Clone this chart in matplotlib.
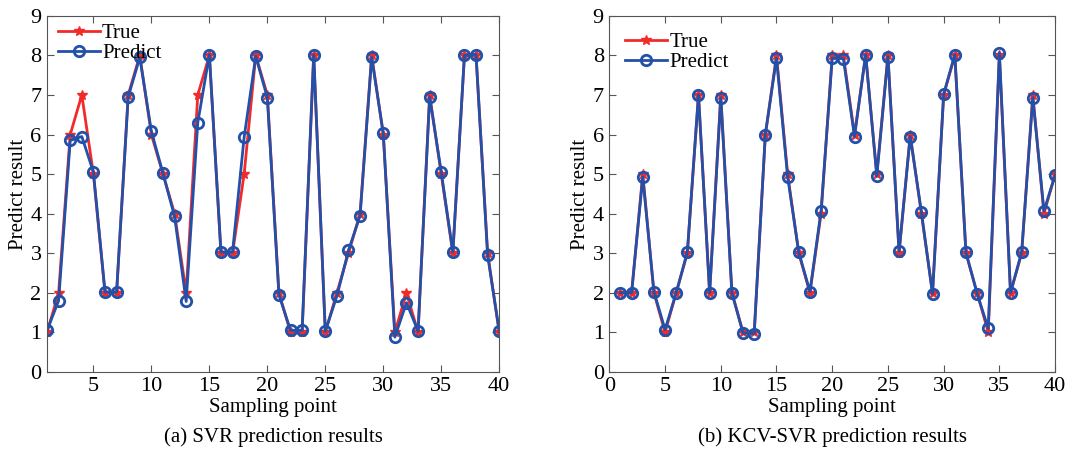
import matplotlib
matplotlib.use("Agg")
from matplotlib import pyplot as plt
import numpy as np

plt.rcParams["font.family"] = ["Liberation Serif", "DejaVu Serif"]
plt.rcParams["mathtext.fontset"] = "stix"

x = np.arange(1, 41)

# (a) SVR
svr_true = [1, 2, 6, 7, 5, 2, 2, 7, 8, 6,
            5, 4, 2, 7, 8, 3, 3, 5, 8, 7,
            2, 1, 1, 8, 1, 2, 3, 4, 8, 6,
            1, 2, 1, 7, 5, 3, 8, 8, 3, 1]
svr_pred = [1.05, 1.8, 5.85, 5.95, 5.05, 2.02, 2.02, 6.95, 7.95, 6.08,
            5.02, 3.93, 1.78, 6.3, 8.02, 3.03, 3.03, 5.93, 7.98, 6.93,
            1.95, 1.05, 1.05, 8.02, 1.03, 1.92, 3.07, 3.95, 7.95, 6.03,
            0.88, 1.75, 1.03, 6.95, 5.05, 3.03, 8.0, 8.02, 2.95, 1.03]

# (b) KCV-SVR
kcv_true = [2, 2, 5, 2, 1, 2, 3, 7, 2, 7,
            2, 1, 1, 6, 8, 5, 3, 2, 4, 8,
            8, 6, 8, 5, 8, 3, 6, 4, 2, 7,
            8, 3, 2, 1, 8, 2, 3, 7, 4, 5]
kcv_pred = [2.0, 2.0, 4.93, 2.03, 1.07, 2.0, 3.03, 7.0, 2.0, 6.93,
            2.0, 0.98, 0.97, 6.0, 7.93, 4.93, 3.02, 2.03, 4.07, 7.93,
            7.92, 5.95, 8.02, 4.95, 7.97, 3.05, 5.95, 4.05, 1.97, 7.02,
            8.02, 3.02, 1.98, 1.1, 8.07, 2.0, 3.03, 6.93, 4.07, 4.97]

captions = ["(a) SVR prediction results", "(b) KCV-SVR prediction results"]

red = "#f22a2a"
blue = "#2350a8"
fs = 15

fig = plt.figure(figsize=(10.69, 4.53), dpi=100)
ax1 = fig.add_axes([0.044, 0.179, 0.423, 0.786])
ax2 = fig.add_axes([0.570, 0.179, 0.417, 0.786])

panels = [(ax1, svr_true, svr_pred, 1, (0.011, 0.995)),
          (ax2, kcv_true, kcv_pred, 0, (0.022, 0.97))]
for i, (ax, t, p, x0, anchor) in enumerate(panels):
    ax.plot(x, t, color=red, lw=2, marker="*", ms=7, label="True")
    ax.plot(x, p, color=blue, lw=2, marker="o", ms=7.5, mfc="none",
            mew=2, label="Predict")
    ax.set_xlim(x0, 40)
    ax.set_ylim(0, 9)
    ax.set_xticks(range(5, 41, 5) if x0 == 1 else range(0, 41, 5))
    ax.set_yticks(range(0, 10))
    ax.tick_params(direction="in", top=True, right=True, labelsize=fs + 1,
                   length=5, color="#555555", pad=4)
    for s in ax.spines.values():
        s.set_color("#555555")
    ax.set_xlabel("Sampling point", fontsize=fs, labelpad=1)
    ax.set_ylabel("Predict result", fontsize=fs, labelpad=2)
    ax.legend(loc="upper left", bbox_to_anchor=anchor, frameon=False,
              fontsize=fs, handlelength=2.0, handletextpad=0.1,
              labelspacing=0.0, borderpad=0.1, borderaxespad=0.2)
    ax.text(0.5, -0.183, captions[i], transform=ax.transAxes, ha="center",
            va="center", fontsize=fs)

fig.savefig("out.png", dpi=100)
